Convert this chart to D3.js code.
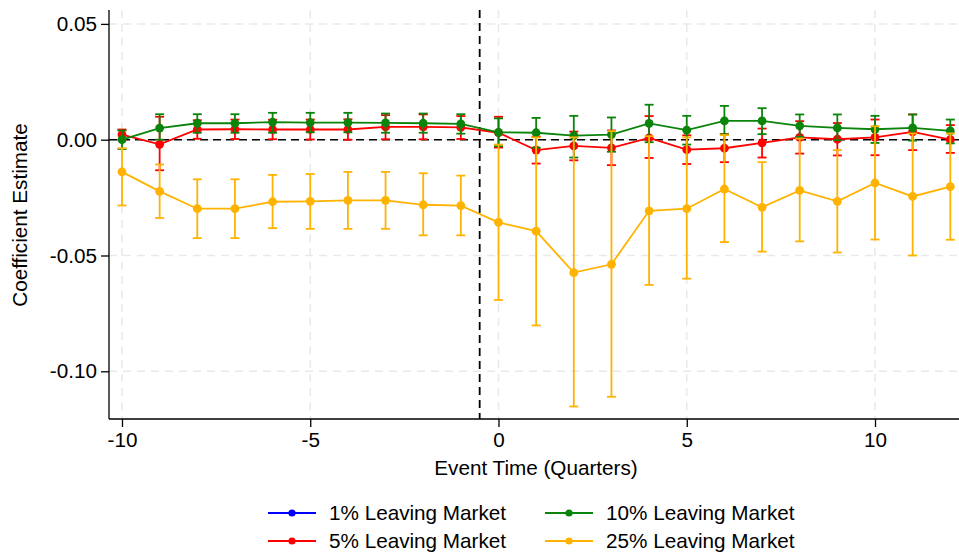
<!DOCTYPE html>
<html>
<head>
<meta charset="utf-8">
<script src="https://cdn.jsdelivr.net/npm/d3@7"></script>
<style>
  html, body { margin: 0; padding: 0; background: #fff; }
  svg text { font-family: "Liberation Sans", Arial, Helvetica, sans-serif; fill: #000; }
</style>
</head>
<body>
<svg id="chart" width="959" height="552"></svg>
<script>
// Event time in quarters
const eventTime = [-10, -9, -8, -7, -6, -5, -4, -3, -2, -1, 0, 1, 2, 3, 4, 5, 6, 7, 8, 9, 10, 11, 12];

// 1% leaving market (no estimates shown)
const est1 = [];
const lo1 = [];
const hi1 = [];

// 5% leaving market
const est5 = [0.0022, -0.0020, 0.0044, 0.0045, 0.0044, 0.0044, 0.0044, 0.0055, 0.0055, 0.0053, 0.0030, -0.0045, -0.0027, -0.0035, 0.0008, -0.0043, -0.0037, -0.0014, 0.0010, 0.0002, 0.0010, 0.0034, 0.0000];
const lo5 = [0.0000, -0.0132, 0.0004, 0.0003, 0.0002, 0.0001, 0.0000, 0.0002, 0.0002, 0.0003, -0.0034, -0.0103, -0.0089, -0.0110, -0.0079, -0.0105, -0.0097, -0.0077, -0.0060, -0.0068, -0.0067, -0.0045, -0.0057];
const hi5 = [0.0044, 0.0099, 0.0084, 0.0087, 0.0086, 0.0087, 0.0088, 0.0106, 0.0109, 0.0102, 0.0099, 0.0013, 0.0035, 0.0040, 0.0102, 0.0019, 0.0024, 0.0048, 0.0080, 0.0072, 0.0087, 0.0109, 0.0063];

// 10% leaving market
const est10 = [0.0000, 0.0050, 0.0071, 0.0071, 0.0076, 0.0074, 0.0074, 0.0073, 0.0071, 0.0068, 0.0032, 0.0030, 0.0018, 0.0022, 0.0070, 0.0041, 0.0081, 0.0081, 0.0060, 0.0051, 0.0045, 0.0051, 0.0038];
const lo10 = [-0.0040, 0.0000, 0.0030, 0.0030, 0.0030, 0.0032, 0.0032, 0.0030, 0.0030, 0.0026, -0.0028, -0.0034, -0.0077, -0.0052, -0.0011, -0.0021, 0.0023, 0.0024, 0.0012, -0.0002, -0.0014, -0.0004, -0.0016];
const hi10 = [0.0040, 0.0110, 0.0110, 0.0110, 0.0116, 0.0116, 0.0116, 0.0113, 0.0113, 0.0110, 0.0092, 0.0094, 0.0103, 0.0096, 0.0151, 0.0103, 0.0146, 0.0136, 0.0109, 0.0109, 0.0103, 0.0109, 0.0087];

// 25% leaving market
const est25 = [-0.0139, -0.0223, -0.0298, -0.0298, -0.0268, -0.0266, -0.0262, -0.0262, -0.0281, -0.0285, -0.0357, -0.0395, -0.0574, -0.0538, -0.0307, -0.0298, -0.0213, -0.0292, -0.0219, -0.0266, -0.0187, -0.0245, -0.0203];
const lo25 = [-0.0284, -0.0338, -0.0425, -0.0425, -0.0382, -0.0385, -0.0385, -0.0385, -0.0413, -0.0413, -0.0692, -0.0802, -0.1152, -0.1110, -0.0627, -0.0600, -0.0442, -0.0483, -0.0439, -0.0487, -0.0431, -0.0500, -0.0432];
const hi25 = [-0.0037, -0.0107, -0.0171, -0.0171, -0.0152, -0.0148, -0.0139, -0.0139, -0.0145, -0.0155, -0.0021, 0.0010, 0.0010, 0.0037, 0.0015, 0.0010, 0.0020, -0.0097, 0.0005, -0.0045, 0.0058, 0.0027, 0.0027];

const seriesNames = ["1% Leaving Market", "5% Leaving Market", "10% Leaving Market", "25% Leaving Market"];
const seriesColors = ["#0000ff", "#ff0000", "#0a840a", "#ffb300"];

const xTicks = [-10, -5, 0, 5, 10];
const yTicks = [0.05, 0.00, -0.05, -0.10];
const eventLine = -0.5;

const series = [
  { name: seriesNames[0], color: seriesColors[0], est: est1, lo: lo1, hi: hi1 },
  { name: seriesNames[1], color: seriesColors[1], est: est5, lo: lo5, hi: hi5 },
  { name: seriesNames[2], color: seriesColors[2], est: est10, lo: lo10, hi: hi10 },
  { name: seriesNames[3], color: seriesColors[3], est: est25, lo: lo25, hi: hi25 }
].map(s => ({ ...s, points: s.est.map((v, i) => ({ t: eventTime[i], v, lo: s.lo[i], hi: s.hi[i] })) }));

const svg = d3.select("#chart");
const plot = { left: 109, right: 968, top: 10, bottom: 419 };
const fontSize = 20.7;

const x = d3.scaleLinear().domain([-10.345, 12.47]).range([plot.left, plot.right]);
const y = d3.scaleLinear().domain([-0.1206, 0.0560]).range([plot.bottom, plot.top]);

// plain hyphen-minus for negative tick labels
const hyphen = f => d => f(d).replace("\u2212", "-");

// grid
const grid = svg.append("g");
grid.selectAll("line.gy").data(yTicks).join("line")
  .attr("x1", plot.left).attr("x2", plot.right)
  .attr("y1", d => y(d)).attr("y2", d => y(d))
  .attr("stroke", "#e9e9e9").attr("stroke-width", 1.5).attr("stroke-dasharray", "8,6");
grid.selectAll("line.gx").data(xTicks).join("line")
  .attr("x1", d => x(d)).attr("x2", d => x(d))
  .attr("y1", plot.top).attr("y2", plot.bottom)
  .attr("stroke", "#e9e9e9").attr("stroke-width", 1.5).attr("stroke-dasharray", "8,6");

// reference lines
svg.append("line")
  .attr("x1", plot.left).attr("x2", plot.right)
  .attr("y1", y(0)).attr("y2", y(0))
  .attr("stroke", "#000").attr("stroke-width", 1.6).attr("stroke-dasharray", "8,5");
svg.append("line")
  .attr("x1", x(eventLine)).attr("x2", x(eventLine))
  .attr("y1", plot.top).attr("y2", plot.bottom)
  .attr("stroke", "#000").attr("stroke-width", 1.8).attr("stroke-dasharray", "8,5");

// series: error bars, connecting line, markers
const capW = 4.5;
const line = d3.line().x(d => x(d.t)).y(d => y(d.v));
series.forEach(s => {
  const g = svg.append("g");
  const eb = g.selectAll("g.eb").data(s.points).join("g");
  eb.append("line")
    .attr("x1", d => x(d.t)).attr("x2", d => x(d.t))
    .attr("y1", d => y(d.lo)).attr("y2", d => y(d.hi))
    .attr("stroke", s.color).attr("stroke-width", 1.8);
  eb.append("line")
    .attr("x1", d => x(d.t) - capW).attr("x2", d => x(d.t) + capW)
    .attr("y1", d => y(d.lo)).attr("y2", d => y(d.lo))
    .attr("stroke", s.color).attr("stroke-width", 1.8);
  eb.append("line")
    .attr("x1", d => x(d.t) - capW).attr("x2", d => x(d.t) + capW)
    .attr("y1", d => y(d.hi)).attr("y2", d => y(d.hi))
    .attr("stroke", s.color).attr("stroke-width", 1.8);
  if (s.points.length) {
    g.append("path").datum(s.points)
      .attr("d", line).attr("fill", "none")
      .attr("stroke", s.color).attr("stroke-width", 1.8);
  }
  g.selectAll("circle").data(s.points).join("circle")
    .attr("cx", d => x(d.t)).attr("cy", d => y(d.v)).attr("r", 4.4)
    .attr("fill", s.color);
});

// axes
const yAxis = d3.axisLeft(y).tickValues(yTicks).tickFormat(hyphen(d3.format(".2f"))).tickSize(8).tickPadding(4);
const gy = svg.append("g").attr("transform", `translate(${plot.left},0)`).call(yAxis);
gy.select(".domain").attr("d", `M0,${plot.top}V${plot.bottom}`).attr("stroke", "#000").attr("stroke-width", 1.3);
gy.selectAll(".tick line").attr("stroke", "#000").attr("stroke-width", 1.3);
gy.selectAll(".tick text").attr("font-size", fontSize).style("font-family", "Liberation Sans, Arial, sans-serif").attr("fill", "#000");

const xAxis = d3.axisBottom(x).tickValues(xTicks).tickFormat(hyphen(d3.format("d"))).tickSize(8).tickPadding(5);
const gx = svg.append("g").attr("transform", `translate(0,${plot.bottom})`).call(xAxis);
gx.select(".domain").attr("d", `M${plot.left},0H${plot.right}`).attr("stroke", "#000").attr("stroke-width", 1.3);
gx.selectAll(".tick line").attr("stroke", "#000").attr("stroke-width", 1.3);
gx.selectAll(".tick text").attr("font-size", fontSize).style("font-family", "Liberation Sans, Arial, sans-serif").attr("fill", "#000");

// axis titles
svg.append("text").attr("x", 536).attr("y", 475).attr("text-anchor", "middle")
  .attr("font-size", fontSize).text("Event Time (Quarters)");
svg.append("text").attr("transform", "translate(27,215) rotate(-90)").attr("text-anchor", "middle")
  .attr("font-size", fontSize).text("Coefficient Estimate");

// legend
const legendPos = [[268, 513], [268, 541], [545, 513], [545, 541]];
series.forEach((s, i) => {
  const [lx, ly] = legendPos[i];
  const g = svg.append("g").attr("transform", `translate(${lx},${ly})`);
  g.append("line").attr("x1", 0).attr("x2", 48).attr("y1", 0).attr("y2", 0)
    .attr("stroke", s.color).attr("stroke-width", 1.8);
  g.append("circle").attr("cx", 24).attr("cy", 0).attr("r", 3.6).attr("fill", s.color);
  g.append("text").attr("x", 61).attr("y", 7).attr("font-size", fontSize).text(s.name);
});
</script>
</body>
</html>
